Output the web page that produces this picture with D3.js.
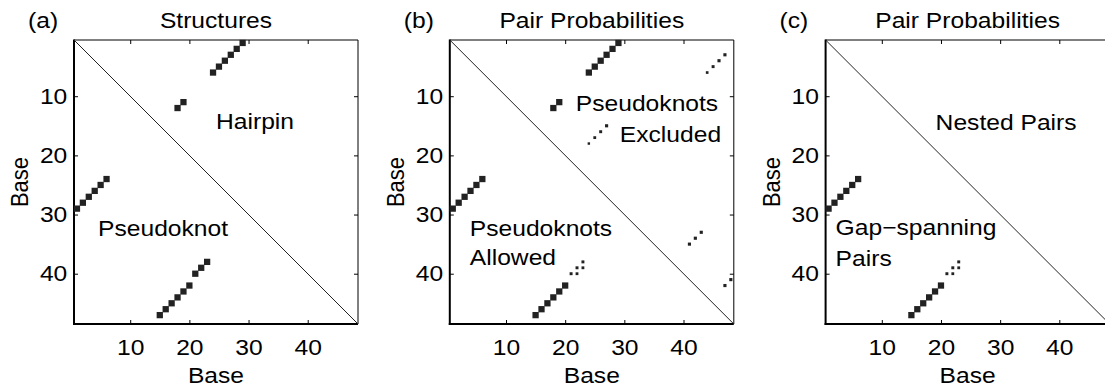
<!DOCTYPE html>
<html>
<head>
<meta charset="utf-8">
<script src="https://cdn.jsdelivr.net/npm/d3@7"></script>
<style>
  body { margin: 0; background: #fff; }
  text { font-family: "Liberation Sans", Arial, sans-serif; fill: #000; }
</style>
</head>
<body>
<div id="chart"></div>
<script>
// ---- data ----
var nBases = 48;
var tickVals = [10, 20, 30, 40];
var panelTags = ["(a)", "(b)", "(c)"];
var panelTitles = ["Structures", "Pair Probabilities", "Pair Probabilities"];

// base pairs as [i, j, probability]; upper triangle drawn at (j, i), lower at (i, j)
var hairpinPairs = [[1,29,1],[2,28,1],[3,27,1],[4,26,1],[5,25,1],[6,24,1],[11,19,1],[12,18,1]];
var pseudoknotPairs = [[1,29,1],[2,28,1],[3,27,1],[4,26,1],[5,25,1],[6,24,1],
  [15,47,1],[16,46,1],[17,45,1],[18,44,1],[19,43,1],[20,42,1],[21,40,1],[22,39,1],[23,38,1]];
var excludedPairs = [[1,29,1],[2,28,1],[3,27,1],[4,26,1],[5,25,1],[6,24,1],[11,19,1],[12,18,1],
  [3,47,0.25],[4,46,0.25],[5,45,0.22],[6,44,0.18],
  [15,27,0.25],[16,26,0.22],[17,25,0.2],[18,24,0.15],
  [33,43,0.25],[34,42,0.25],[35,41,0.25],
  [41,48,0.25],[42,47,0.25]];
var allowedPairs = [[1,29,1],[2,28,1],[3,27,1],[4,26,1],[5,25,1],[6,24,1],
  [15,47,1],[16,46,1],[17,45,1],[18,44,1],[19,43,1],[20,42,1],
  [21,40,0.22],[22,40,0.2],[22,39,0.22],[23,39,0.2],[23,38,0.22]];
var nestedPairs = [];
var gapSpanningPairs = [[1,29,1],[2,28,1],[3,27,1],[4,26,1],[5,25,1],[6,24,1],
  [15,47,1],[16,46,1],[17,45,1],[18,44,1],[19,43,1],[20,42,1],
  [21,40,0.22],[22,40,0.2],[22,39,0.22],[23,39,0.2],[23,38,0.22]];

var upperSets = [hairpinPairs, excludedPairs, nestedPairs];
var lowerSets = [pseudoknotPairs, allowedPairs, gapSpanningPairs];

// annotation text, one list per panel: [text, x offset, baseline offset] inside plot
var notes = [
  [["Hairpin", 142, 89], ["Pseudoknot", 24, 196]],
  [["Pseudoknots", 126, 71], ["Excluded", 170, 102], ["Pseudoknots", 20, 196], ["Allowed", 20, 225]],
  [["Nested Pairs", 110, 90], ["Gap\u2212spanning", 10, 195], ["Pairs", 10, 226]]
];

// ---- layout ----
var W = 1105, H = 390;
var size = 284, topY = 40, firstLeft = 74, step = 375.8;
var fs = 22, sx = 1.12;   // text in the picture is a bit wider than Arial
var ink = "#222";

var svg = d3.select("#chart").append("svg")
  .attr("width", W).attr("height", H);

var x = d3.scaleLinear().domain([0.5, nBases + 0.5]).range([0, size]);
var y = d3.scaleLinear().domain([0.5, nBases + 0.5]).range([0, size]);
var unit = x(2) - x(1);

function stretch(sel) {
  sel.each(function(){
    var t = d3.select(this);
    var tr = t.attr("transform") || "";
    t.attr("transform", tr + " scale(" + sx + ",1)");
  });
}

panelTitles.forEach(function(title, k){
  var g = svg.append("g")
    .attr("transform", "translate(" + (firstLeft + k * step) + "," + topY + ")");

  // ticks on all four sides, pointing inward
  var bottom = g.append("g").attr("transform", "translate(0," + size + ")")
    .call(d3.axisBottom(x).tickValues(tickVals).tickSizeInner(-4).tickSizeOuter(0).tickPadding(15));
  var left = g.append("g")
    .call(d3.axisLeft(y).tickValues(tickVals).tickSizeInner(-4).tickSizeOuter(0).tickPadding(6));
  var topAx = g.append("g")
    .call(d3.axisTop(x).tickValues(tickVals).tickSizeInner(-4).tickSizeOuter(0).tickFormat(""));
  var right = g.append("g").attr("transform", "translate(" + size + ",0)")
    .call(d3.axisRight(y).tickValues(tickVals).tickSizeInner(-4).tickSizeOuter(0).tickFormat(""));

  [bottom, left, topAx, right].forEach(function(a){
    a.select(".domain").remove();
    a.selectAll("line").attr("stroke", "#000");
    a.selectAll("text").attr("font-size", fs).attr("font-family", null).attr("fill", "#000");
  });
  bottom.selectAll("text").call(stretch);
  left.selectAll("text").call(stretch);

  // box
  g.append("line").attr("x1", 0).attr("y1", 0).attr("x2", size).attr("y2", 0)
    .attr("stroke", "#000").attr("stroke-width", 1);
  g.append("line").attr("x1", size).attr("y1", 0).attr("x2", size).attr("y2", size)
    .attr("stroke", "#000").attr("stroke-width", 1);
  g.append("line").attr("x1", 0).attr("y1", -0.5).attr("x2", 0).attr("y2", size + 1)
    .attr("stroke", "#000").attr("stroke-width", 2);
  g.append("line").attr("x1", -1).attr("y1", size).attr("x2", size).attr("y2", size)
    .attr("stroke", "#000").attr("stroke-width", 2);

  // diagonal
  g.append("line")
    .attr("x1", x(0.5)).attr("y1", y(0.5))
    .attr("x2", x(nBases + 0.5)).attr("y2", y(nBases + 0.5))
    .attr("stroke", ink).attr("stroke-width", 1);

  // pair marks, side grows with probability
  var side = function(d){ return unit * 1.06 * Math.sqrt(d[2]); };
  g.append("g").selectAll("rect.up")
    .data(upperSets[k]).enter().append("rect")
    .attr("x", function(d){ return x(d[1]) - side(d) / 2; })
    .attr("y", function(d){ return y(d[0]) - side(d) / 2; })
    .attr("width", side).attr("height", side)
    .attr("fill", ink);
  g.append("g").selectAll("rect.low")
    .data(lowerSets[k]).enter().append("rect")
    .attr("x", function(d){ return x(d[0]) - side(d) / 2; })
    .attr("y", function(d){ return y(d[1]) - side(d) / 2; })
    .attr("width", side).attr("height", side)
    .attr("fill", ink);

  // title + tag
  g.append("text")
    .attr("transform", "translate(" + (size / 2) + ",-12)")
    .attr("text-anchor", "middle").attr("font-size", fs)
    .text(title).call(stretch);
  g.append("text")
    .attr("transform", "translate(-46,-12)")
    .attr("font-size", fs)
    .text(panelTags[k]).call(stretch);

  // axis labels
  g.append("text")
    .attr("transform", "translate(" + (size / 2) + "," + (size + 59) + ")")
    .attr("text-anchor", "middle").attr("font-size", fs)
    .text("Base").call(stretch);
  g.append("text")
    .attr("transform", "translate(-46," + (size / 2) + ") scale(" + sx + ",1) rotate(-90)")
    .attr("text-anchor", "middle").attr("font-size", fs)
    .text("Base");

  notes[k].forEach(function(n){
    g.append("text")
      .attr("transform", "translate(" + n[1] + "," + n[2] + ")")
      .attr("font-size", fs)
      .text(n[0]).call(stretch);
  });
});
</script>
</body>
</html>
